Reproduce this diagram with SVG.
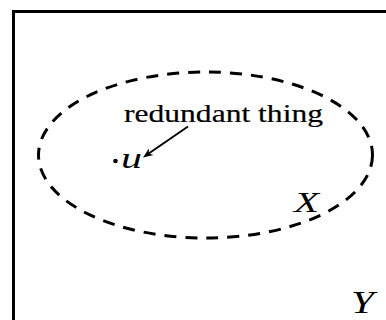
<svg xmlns="http://www.w3.org/2000/svg" width="386" height="320" viewBox="0 0 386 320">
<style>
text{font-family:'Liberation Serif',serif;fill:#000}
.m{font-style:italic}
.l{stroke:#000;stroke-width:0.2}
</style>
<rect width="386" height="320" fill="#fff"/>
<g id="Y">
<rect x="13.5" y="11.5" width="400" height="330" fill="none" stroke="#000" stroke-width="3"/>
<text class="m" x="351" y="313" font-size="31" textLength="23" lengthAdjust="spacingAndGlyphs">Y</text>
</g>
<g id="X">
<ellipse cx="205.5" cy="155" rx="167" ry="83" fill="none" stroke="#000" stroke-width="3" stroke-dasharray="12 9"/>
<text class="m" x="294" y="212" font-size="30" textLength="25" lengthAdjust="spacingAndGlyphs">X</text>
</g>
<g id="u">
<circle cx="115.5" cy="161" r="2.3" fill="#000"/>
<text class="m" x="121" y="168" font-size="30" textLength="21" lengthAdjust="spacingAndGlyphs">u</text>
</g>
<g id="label">
<text class="l" x="124" y="122" font-size="26" textLength="199" lengthAdjust="spacingAndGlyphs">redundant thing</text>
</g>
<g id="connectors">
<line x1="188" y1="126.5" x2="148" y2="154" stroke="#000" stroke-width="2"/>
<polygon points="143,157.5 148.9,148.5 148.8,153.5 153.5,155.1" fill="#000"/>
</g>
</svg>
